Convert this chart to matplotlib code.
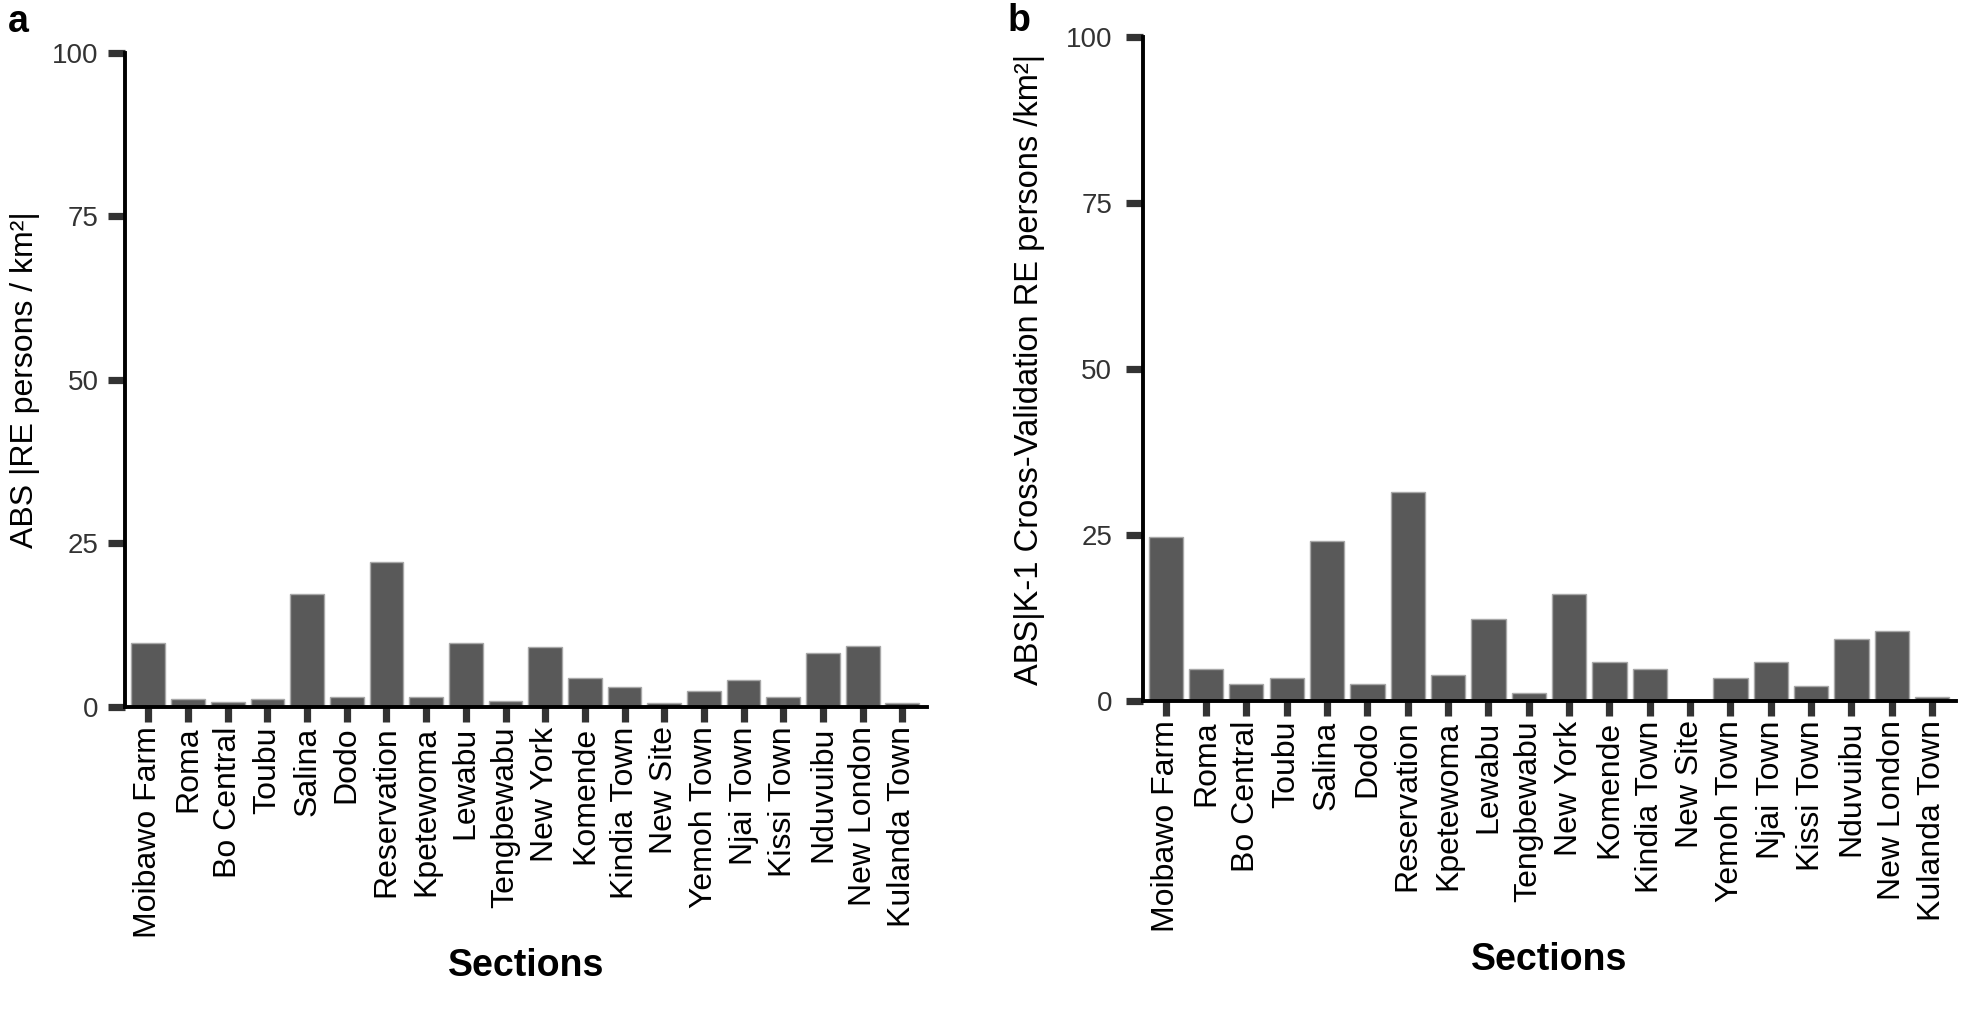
import matplotlib
matplotlib.use('Agg')
import numpy as np
import matplotlib.pyplot as plt

sections = ['Moibawo Farm', 'Roma', 'Bo Central', 'Toubu', 'Salina', 'Dodo',
            'Reservation', 'Kpetewoma', 'Lewabu', 'Tengbewabu', 'New York',
            'Komende', 'Kindia Town', 'New Site', 'Yemoh Town', 'Njai Town',
            'Kissi Town', 'Nduvuibu', 'New London', 'Kulanda Town']
# panel a: ABS |RE|
abs_re = [9.7, 1.2, 0.8, 1.2, 17.2, 1.5, 22.2, 1.5, 9.7, 0.85, 9.1,
          4.5, 3.1, 0.55, 2.5, 4.1, 1.5, 8.3, 9.35, 0.55]
# panel b: ABS |K-1 cross-validation RE|
abs_cv = [24.7, 4.8, 2.6, 3.5, 24.1, 2.6, 31.5, 3.9, 12.3, 1.25, 16.1,
          5.8, 4.8, 0.0, 3.5, 5.8, 2.2, 9.3, 10.6, 0.55]
y_ticks = [0, 25, 50, 75, 100]

plt.rcParams['font.family'] = ['Liberation Sans', 'DejaVu Sans']

BAR = '#595959'
TICK = '#333333'


def draw_panel(ax, values, ylabel, xlim, ypad, labelpad, ylabel_size):
    x = np.arange(len(sections))
    ax.bar(x, values, width=0.85, color=BAR, edgecolor='#a8a8a8',
           linewidth=1.0, zorder=2)
    ax.set_xlim(*xlim)
    ax.set_ylim(0, 100)
    ax.set_yticks(y_ticks)
    ax.set_xticks(x)
    ax.set_xticklabels(sections, rotation=90, fontsize=23)

    for side in ['top', 'right']:
        ax.spines[side].set_visible(False)
    for side in ['left', 'bottom']:
        ax.spines[side].set_linewidth(2.8)
        ax.spines[side].set_color('black')
        ax.spines[side].set_zorder(3)

    ax.tick_params(axis='y', direction='out', length=12, width=5.2,
                   color=TICK, pad=ypad, labelsize=20, labelcolor=TICK)
    ax.tick_params(axis='x', direction='out', length=11, width=5.2,
                   color=TICK, pad=3, labelcolor='black')

    ax.set_ylabel(ylabel, fontsize=ylabel_size, labelpad=labelpad)
    ax.set_xlabel('Sections', fontsize=27, fontweight='bold', labelpad=7)


fig = plt.figure(figsize=(19.61, 10.31), dpi=100)
ax_a = fig.add_axes([0.0637, 0.3143, 0.4088, 0.6346])
ax_b = fig.add_axes([0.5827, 0.3201, 0.4147, 0.6437])

draw_panel(ax_a, abs_re, 'ABS |RE persons / km²|', (-0.59, 19.61), 7, 9, 23)
draw_panel(ax_b, abs_cv, 'ABS|K-1 Cross-Validation RE persons /km²|',
           (-0.57, 19.59), 10, 15, 23.5)

fig.text(8 / 1961, 1 - 32 / 1031, 'a', fontsize=27, fontweight='bold',
         ha='left', va='baseline')
fig.text(1008 / 1961, 1 - 31 / 1031, 'b', fontsize=27, fontweight='bold',
         ha='left', va='baseline')

fig.savefig('out.png', dpi=100, facecolor='white')
